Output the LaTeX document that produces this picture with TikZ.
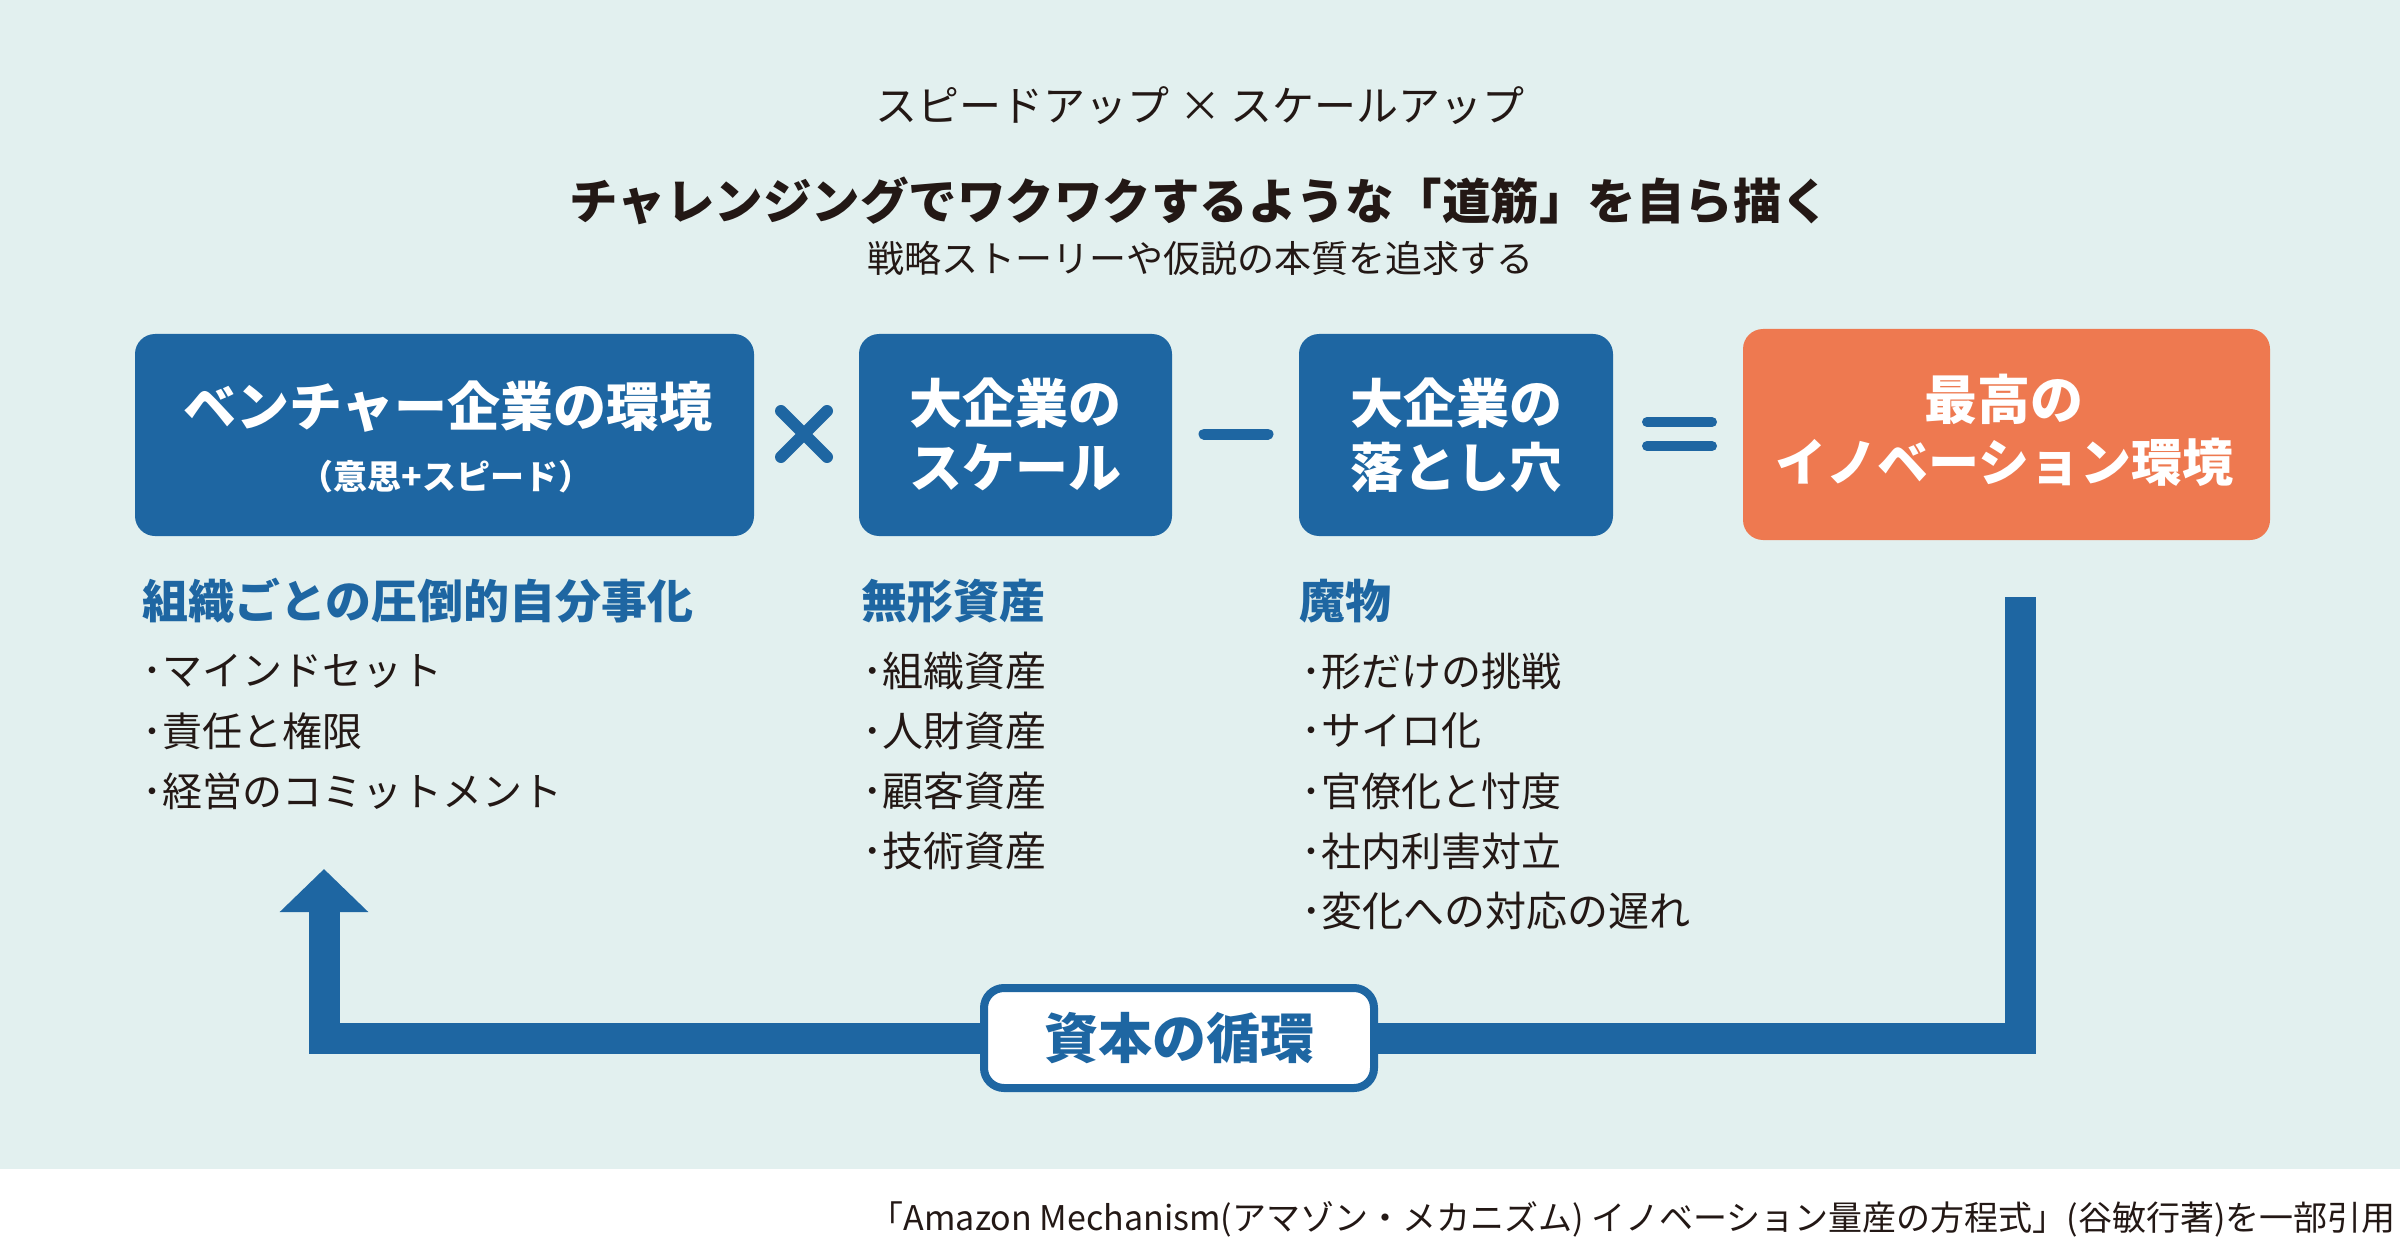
\documentclass[tikz,border=0pt]{standalone}
\usepackage{fontspec}
\setmainfont{Noto Sans CJK JP}
\usetikzlibrary{arrows.meta}
\definecolor{bgc}{HTML}{E2F0EF}
\definecolor{blu}{HTML}{1E66A2}
\definecolor{org}{HTML}{EE7950}
\definecolor{ink}{HTML}{231815}
\newcommand\myfs[1]{\fontsize{#1pt}{#1pt}\selectfont}
\tikzset{
  boxb/.style={fill=blu, rounded corners=20pt, inner sep=0pt},
  boxo/.style={fill=org, rounded corners=20pt, inner sep=0pt},
  wtxt/.style={text=white, inner sep=0pt, font=\bfseries\myfs{53}},
  head/.style={text=blu, inner sep=0pt, anchor=west, font=\bfseries\myfs{46}},
  item/.style={text=ink, inner sep=0pt, anchor=west, font=\myfs{40}},
  opsym/.style={draw=blu, line cap=round},
  flow/.style={draw=blu, line width=31pt, line join=miter},
}
\begin{document}
\begin{tikzpicture}[x=1pt,y=-1pt]
\useasboundingbox (0,0) rectangle (2400,1246);
\fill[white] (0,0) rectangle (2400,1246);
\fill[bgc] (0,0) rectangle (2400,1169);

% top texts
\node[text=ink, inner sep=0pt, font=\myfs{42}] (t1) at (1200,106) {スピードアップ × スケールアップ};
\node[text=ink, inner sep=0pt, font=\bfseries\myfs{48.5}] (t2) at (1200,201) {チャレンジングでワクワクするような「道筋」を自ら描く};
\node[text=ink, inner sep=0pt, font=\myfs{37}] (t3) at (1200,258) {戦略ストーリーや仮説の本質を追求する};

% boxes
\node[boxb, minimum width=619pt, minimum height=202pt] (b1) at (444.5,435) {};
\node[wtxt] (b1a) at (448,407) {ベンチャー企業の環境};
\node[wtxt, font=\bfseries\myfs{34}] (b1b) at (446,477) {（意思+スピード）};

\node[boxb, minimum width=313pt, minimum height=202pt] (b2) at (1015.5,435) {};
\node[wtxt] (b2a) at (1015,403) {大企業の};
\node[wtxt] (b2b) at (1015,467) {スケール};

\node[boxb, minimum width=314pt, minimum height=202pt] (b3) at (1456,435) {};
\node[wtxt] (b3a) at (1456,403) {大企業の};
\node[wtxt] (b3b) at (1456,467) {落とし穴};

\node[boxo, minimum width=527pt, minimum height=211pt] (b4) at (2006.5,434.5) {};
\node[wtxt] (b4a) at (2004,399) {最高の};
\node[wtxt, font=\bfseries\myfs{51}] (b4b) at (2004,462) {イノベーション環境};

% operators
\draw[opsym, line width=12pt] (781,411) -- (827,457) (781,457) -- (827,411);
\draw[opsym, line width=11pt] (1204,434) -- (1268,434);
\draw[opsym, line width=10pt] (1647,422) -- (1712,422) (1647,446) -- (1712,446);

% column 1
\node[head] (h1) at (142,601) {組織ごとの圧倒的自分事化};
\node[item] (i11) at (142,671) {･マインドセット};
\node[item] (i12) at (142,731) {･責任と権限};
\node[item] (i13) at (142,791) {･経営のコミットメント};

% column 2
\node[head] (h2) at (861,601) {無形資産};
\node[item, font=\myfs{41}] (i21) at (862,671) {･組織資産};
\node[item, font=\myfs{41}] (i22) at (862,731) {･人財資産};
\node[item, font=\myfs{41}] (i23) at (862,791) {･顧客資産};
\node[item, font=\myfs{41}] (i24) at (862,851) {･技術資産};

% column 3
\node[head] (h3) at (1299,601) {魔物};
\node[item] (i31) at (1301,671) {･形だけの挑戦};
\node[item] (i32) at (1301,731) {･サイロ化};
\node[item] (i33) at (1301,791) {･官僚化と忖度};
\node[item] (i34) at (1301,851) {･社内利害対立};
\node[item, font=\myfs{41}] (i35) at (1301,911) {･変化への対応の遅れ};

% cycle
\node[draw=blu, line width=8pt, fill=white, rounded corners=20pt, minimum width=390pt, minimum height=100pt, inner sep=0pt, text=blu, font=\bfseries\myfs{54}] (lab) at (1179,1038) {資本の循環};
\coordinate (rtop) at (2020.5,597);
\coordinate (atip) at (324,869);
\draw[flow] (rtop) |- (lab.east);
\draw[flow, -{Triangle[width=86pt,length=43pt]}] (lab.west) -| (atip);

% footer
\node[text=ink, inner sep=0pt, anchor=east, font=\myfs{34}] (src) at (2396,1219) {「Amazon Mechanism(アマゾン・メカニズム) イノベーション量産の方程式」(谷敏行著)を一部引用};
\end{tikzpicture}
\end{document}
